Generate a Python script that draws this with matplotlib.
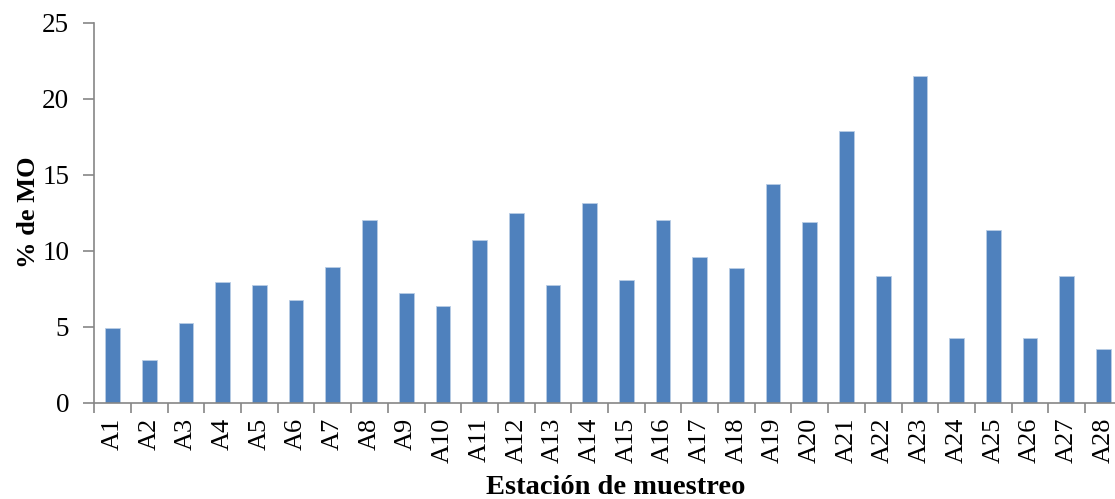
import matplotlib
matplotlib.use("Agg")
import matplotlib.pyplot as plt
import numpy as np

plt.rcParams.update({
    "font.family": "serif",
    "font.serif": ["Liberation Serif", "DejaVu Serif"],
    "font.size": 19,
})

stations = [f"A{i}" for i in range(1, 29)]
mo_pct = [4.91, 2.81, 5.24, 7.92, 7.74, 6.76, 8.91, 12.0, 7.24, 6.36,
          10.7, 12.46, 7.76, 13.14, 8.05, 12.0, 9.6, 8.86, 14.37, 11.87,
          17.85, 8.36, 21.51, 4.24, 11.36, 4.26, 8.32, 3.53]

C_BAR = "#4f81bd"
C_AXIS = "#868686"

fig = plt.figure(figsize=(11.15, 4.99), dpi=100)
# chart area runs slightly past the right edge, as in the source image
ax = fig.add_axes([0.0846, 0.193, 0.9214, 0.7615])

x = np.arange(len(stations))
ax.bar(x, mo_pct, width=0.4, color=C_BAR, edgecolor="#b9cde5", linewidth=0.6)

ax.set_xlim(-0.5, len(stations) - 0.5)
ax.set_ylim(0, 25)
ax.set_yticks(np.arange(0, 26, 5))

# category boundary ticks (major) and centred labels (minor)
ax.set_xticks(np.arange(-0.5, len(stations), 1.0))
ax.set_xticklabels([])
ax.set_xticks(x, minor=True)
ax.set_xticklabels(stations, minor=True, rotation=90)
ax.tick_params(axis="x", which="major", direction="out", length=7,
               width=1.2, color=C_AXIS)
ax.tick_params(axis="x", which="minor", length=0, pad=11)
ax.tick_params(axis="y", direction="out", length=8, width=1.2,
               color=C_AXIS, pad=10, labelsize=19.5)

for side in ("top", "right"):
    ax.spines[side].set_visible(False)
for side in ("left", "bottom"):
    ax.spines[side].set_color(C_AXIS)
    ax.spines[side].set_linewidth(1.2)

ax.set_ylabel("% de MO", fontweight="bold")
ax.yaxis.set_label_coords(-0.0645, 0.5)
ax.yaxis.label.set_va("center")
ax.set_xlabel("Estación de muestreo", fontweight="bold", fontsize=20.5)
ax.xaxis.set_label_coords(0.507, -0.222)
ax.xaxis.label.set_va("center")

fig.savefig("out.png", dpi=100)
